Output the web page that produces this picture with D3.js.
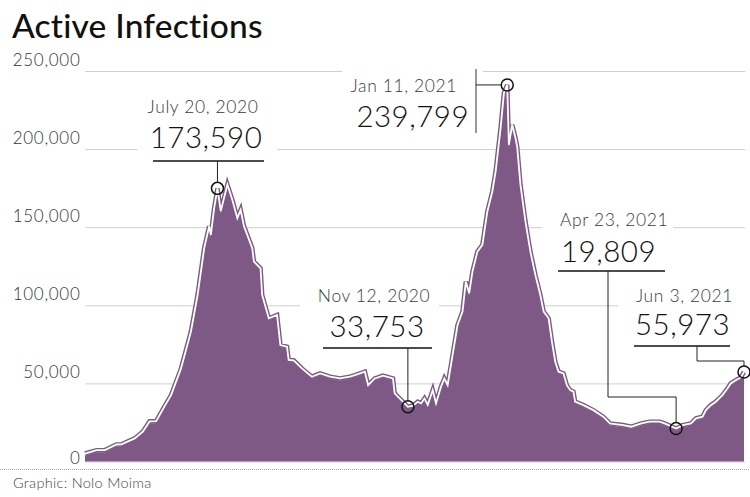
<!DOCTYPE html>
<html><head><meta charset="utf-8">
<script src="https://cdn.jsdelivr.net/npm/d3@7"></script>
<style>
body{margin:0;background:#fff}
svg{display:block}
text{font-family:Lato,"Open Sans","Noto Sans",sans-serif}
</style>
</head><body>
<svg id="chart" width="750" height="497"></svg>
<script>
// ---------- DATA ----------
const dates = [
"2020-05-01","2020-05-08","2020-05-13","2020-05-20","2020-05-23","2020-05-31","2020-06-05","2020-06-09","2020-06-13","2020-06-18",
"2020-06-22","2020-06-28","2020-07-04","2020-07-08","2020-07-12","2020-07-15","2020-07-16","2020-07-18","2020-07-20","2020-07-22",
"2020-07-26","2020-07-29","2020-08-01","2020-08-03","2020-08-05","2020-08-10","2020-08-11","2020-08-15","2020-08-16","2020-08-20",
"2020-08-25","2020-08-27","2020-08-31","2020-09-01","2020-09-04","2020-09-09","2020-09-15","2020-09-20","2020-09-26","2020-10-02",
"2020-10-08","2020-10-11","2020-10-17","2020-10-19","2020-10-23","2020-10-28","2020-11-03","2020-11-04","2020-11-07","2020-11-12",
"2020-11-15","2020-11-18","2020-11-20","2020-11-22","2020-11-24","2020-11-27","2020-11-29","2020-12-02","2020-12-04","2020-12-06",
"2020-12-09","2020-12-12","2020-12-15","2020-12-17","2020-12-19","2020-12-21","2020-12-24","2020-12-27","2020-12-30","2021-01-02",
"2021-01-04","2021-01-07","2021-01-09","2021-01-11","2021-01-12","2021-01-14","2021-01-16","2021-01-17","2021-01-19","2021-01-22",
"2021-01-25","2021-01-28","2021-01-31","2021-02-02","2021-02-05","2021-02-07","2021-02-09","2021-02-11","2021-02-14","2021-02-16",
"2021-02-18","2021-02-20","2021-02-21","2021-02-26","2021-03-04","2021-03-10","2021-03-14","2021-03-22","2021-03-27","2021-04-02",
"2021-04-07","2021-04-13","2021-04-16","2021-04-23","2021-04-27","2021-05-02","2021-05-05","2021-05-09","2021-05-11","2021-05-14",
"2021-05-17","2021-05-21","2021-05-24","2021-05-26","2021-05-29","2021-06-01","2021-06-03"
];
const activeCases = [
3800,5950,6000,9600,9700,13500,17900,24400,24500,34000,
41200,58300,82000,105300,135300,149400,143800,160900,173590,159000,
176000,166200,154500,159800,149400,135300,126700,122400,105300,90400,
92500,73300,72200,63700,63500,58300,53000,55100,53000,51900,
53000,54000,56200,47600,51900,53700,51900,42300,39100,33753,
34500,37000,35900,39100,35000,44400,35900,46600,51900,47600,
66900,86100,94700,113900,106400,120300,133100,137400,158800,171600,
184400,212200,234600,239799,201500,214300,205800,200400,175800,152400,
133100,118100,105300,94700,90400,75400,62600,56200,55100,47600,
44400,43400,37000,34800,31600,27400,23100,22000,21000,23100,
24200,24200,23100,19809,22000,23100,26300,27400,31600,34800,
37000,41200,45500,48700,50800,52500,55973
];
const yTickValues = [0, 50000, 100000, 150000, 200000, 250000];
const annDates = ["2020-07-20","2020-11-12","2021-01-11","2021-04-23","2021-06-03"];
const annValues = [173590, 33753, 239799, 19809, 55973];
const annDateLabels = ["July 20, 2020","Nov 12, 2020","Jan 11, 2021","Apr 23, 2021","Jun 3, 2021"];
const titleText = "Active Infections";
const creditText = "Graphic: Nolo Moima";

// ---------- LAYOUT / STYLE ----------
const W = 750, H = 497;
const plot = {left: 85, right: 744, top: 71, bottom: 461.5};
const fillColor = "#7e5986";
const annLayout = [
  {kind:"under", anchor:"middle", dx:203, dvx:206, dateY:113, valY:148, ul:[153,264], ulY:161, box:[137,88,140,76]},
  {kind:"under", anchor:"middle", dx:374, dvx:377, dateY:302, valY:337, ul:[323,432], ulY:348, box:[300,283,139,69]},
  {kind:"side",  anchor:"end",    dx:457, dvx:469, dateY:92,  valY:127, barX:476, bar:[69,133], box:[342,60,141,78]},
  {kind:"elbow", anchor:"start",  dx:560, dvx:561, dateY:226, valY:262, ul:[558,665], ulY:271, stemX:608, elbowY:397, box:[542,205,131,70]},
  {kind:"elbow", anchor:"start",  dx:636, dvx:635, dateY:302, valY:335, ul:[634,730], ulY:346, stemX:697, elbowY:361, box:[618,284,132,66]}
];

const parse = d3.timeParse("%Y-%m-%d");
const series = dates.map((d,i)=>({date: parse(d), value: activeCases[i]}));
const anns = annDates.map((d,i)=>({date: parse(d), value: annValues[i], label: annDateLabels[i], lay: annLayout[i]}));

const svg = d3.select("#chart");

const x = d3.scaleTime()
  .domain([parse("2020-05-01"), parse("2021-06-03")])
  .range([plot.left, plot.right]);
const y = d3.scaleLinear().domain([0, 250000]).range([plot.bottom, plot.top]);

// Title
svg.append("text").attr("x", 12).attr("y", 38)
  .attr("font-size", 33.5).attr("font-weight", 500).attr("fill", "#111")
  .attr("letter-spacing", 0.2)
  .text(titleText);

// Y axis with gridlines
const yAxis = d3.axisLeft(y).tickValues(yTickValues).tickFormat(d3.format(","))
  .tickSize(-(plot.right + 1 - plot.left)).tickPadding(4.5);
const gy = svg.append("g").attr("transform", `translate(${plot.left},0)`).call(yAxis);
gy.select(".domain").remove();
gy.selectAll(".tick line").attr("stroke", "#cfcfcf").attr("stroke-width", 1);
gy.selectAll(".tick text")
  .attr("font-size", 17).attr("font-weight", 300).attr("fill", "#333")
  .attr("letter-spacing", 0.7)
  .attr("dy", d => d === 0 ? 2 : -5.5);

// White boxes behind annotation labels (break gridlines)
svg.append("g").selectAll("rect").data(anns).join("rect")
  .attr("x", d=>d.lay.box[0]).attr("y", d=>d.lay.box[1])
  .attr("width", d=>d.lay.box[2]).attr("height", d=>d.lay.box[3])
  .attr("fill", "#fff");

// Area
const area = d3.area().x(d=>x(d.date)).y0(y(0)).y1(d=>y(d.value));
const line = d3.line().x(d=>x(d.date)).y(d=>y(d.value));
svg.append("path").datum(series).attr("d", area).attr("fill", fillColor);
const lg = svg.append("g").attr("transform", "translate(0,-2)");
lg.append("path").datum(series).attr("d", line).attr("fill", "none")
  .attr("stroke", fillColor).attr("stroke-width", 4.6).attr("stroke-linejoin", "miter");
lg.append("path").datum(series).attr("d", line).attr("fill", "none")
  .attr("stroke", "#fff").attr("stroke-width", 1.8).attr("stroke-linejoin", "miter");

// Bottom dotted rule
svg.append("line").attr("x1", 0).attr("x2", W).attr("y1", 469.5).attr("y2", 469.5)
  .attr("stroke", "#a8a8a8").attr("stroke-width", 1).attr("stroke-dasharray", "1,1");

// Credit
svg.append("text").attr("x", 13).attr("y", 488)
  .attr("font-size", 14.5).attr("font-weight", 300).attr("fill", "#444")
  .attr("letter-spacing", 0.3)
  .text(creditText);

// Annotations
const R = 6;
const ag = svg.append("g");
anns.forEach(a => {
  const L = a.lay, cx = x(a.date), cy = y(a.value) - 2;
  const g = ag.append("g");
  g.append("text").attr("x", L.dx).attr("y", L.dateY).attr("text-anchor", L.anchor)
    .attr("font-size", 17.5).attr("font-weight", 300).attr("fill", "#3a3a3a")
    .attr("letter-spacing", 0.6).text(a.label);
  g.append("text").attr("x", L.dvx).attr("y", L.valY).attr("text-anchor", L.anchor)
    .attr("font-size", 29.5).attr("font-weight", 300).attr("fill", "#111")
    .attr("letter-spacing", 0.5).text(d3.format(",")(a.value));
  let p;
  if (L.kind === "under") {
    g.append("line").attr("x1", L.ul[0]).attr("x2", L.ul[1]).attr("y1", L.ulY).attr("y2", L.ulY)
      .attr("stroke", "#111").attr("stroke-width", 1.3);
    p = `M${cx},${L.ulY}V${cy - R}`;
  } else if (L.kind === "side") {
    g.append("line").attr("x1", L.barX).attr("x2", L.barX).attr("y1", L.bar[0]).attr("y2", L.bar[1])
      .attr("stroke", "#333").attr("stroke-width", 1);
    p = `M${L.barX},${cy}H${cx - R}`;
  } else {
    g.append("line").attr("x1", L.ul[0]).attr("x2", L.ul[1]).attr("y1", L.ulY).attr("y2", L.ulY)
      .attr("stroke", "#111").attr("stroke-width", 1.3);
    p = `M${L.stemX},${L.ulY}V${L.elbowY}H${cx}V${cy - R}`;
  }
  g.append("path").attr("d", p).attr("fill", "none").attr("stroke", "#222").attr("stroke-width", 1);
  g.append("circle").attr("cx", cx).attr("cy", cy).attr("r", R)
    .attr("fill", "none").attr("stroke", "#111").attr("stroke-width", 1.5);
});
</script>
</body></html>
